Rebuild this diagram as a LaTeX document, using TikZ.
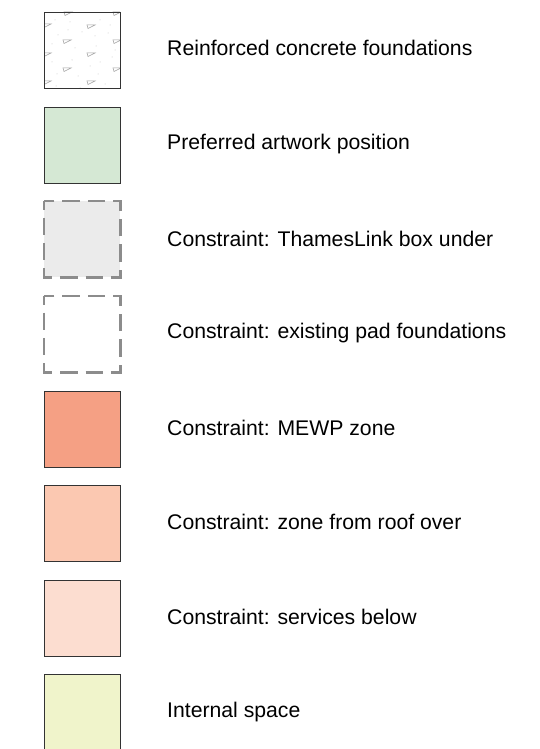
\documentclass[tikz,border=0pt]{standalone}
\usepackage{fontspec}
\setmainfont{Liberation Sans}
\definecolor{cgreen}{HTML}{D5E8D4}
\definecolor{cgray}{HTML}{EBEBEB}
\definecolor{cmewp}{HTML}{F5A084}
\definecolor{croof}{HTML}{FBC8B1}
\definecolor{cserv}{HTML}{FCDDD0}
\definecolor{cint}{HTML}{F0F4CB}
\definecolor{cedge}{HTML}{333333}
\definecolor{cdash}{HTML}{8C8C8C}
\begin{document}
\begin{tikzpicture}[x=1pt,y=-1pt,
  swatch/.style={draw=cedge,line width=1.1pt,minimum width=76pt,minimum height=76pt,inner sep=0pt,anchor=north west},
  dswatch/.style={minimum width=76pt,minimum height=76pt,inner sep=0pt,anchor=north west},
  dedge/.style={draw=cdash,line width=2.2pt,dash pattern=on 17.33pt off 8pt,dash phase=8.67pt},
  lbl/.style={anchor=west,font=\fontsize{21.2}{24}\selectfont,inner sep=0pt}]
\useasboundingbox (0,0) rectangle (540,749);
\node[swatch,fill=white] (s1) at (44,12) {};
\begin{scope}
\clip (44,12) rectangle (120,88);
\begin{scope}[draw=gray!75,line width=0.5pt]
\foreach \x/\y in {87/25,63/40,43/24,113/40,87/53,43/53,63/68,113/68,87/81,43/81,64/12,113/12} {
  \draw (\x,\y) -- ++(8,0) -- ++(-7,3.5) -- cycle;
}
\foreach \x/\y in {55/20,70/22,100/20,110/25,58/35,75/48,96/46,108/33,52/62,72/60,100/62,112/57,57/74,78/76,98/74,115/50,82/32,68/30,105/84,56/86,80/88,95/36,52/44,90/66} {
  \fill[gray!45] (\x,\y) circle (0.5);
}
\end{scope}
\end{scope}
\node[swatch,fill=white,fill opacity=0] at (44,12) {};
\node[lbl] (t1) at (167,48) {Reinforced concrete foundations};
\node[swatch,fill=cgreen] (s2) at (44,107) {};
\node[lbl] (t2) at (167,144) {Preferred artwork position};
\node[dswatch,fill=cgray] (s3) at (44,201) {};
\draw[dedge] (s3.north west) rectangle (s3.south east);
\node[lbl] (t3) at (167,239) {Constraint: ThamesLink box under};
\node[dswatch] (s4) at (44,296) {};
\draw[dedge] (s4.north west) rectangle (s4.south east);
\node[lbl] (t4) at (167,333) {Constraint: existing pad foundations};
\node[swatch,fill=cmewp] (s5) at (44,391) {};
\node[lbl] (t5) at (167,428) {Constraint: MEWP zone};
\node[swatch,fill=croof] (s6) at (44,485) {};
\node[lbl] (t6) at (167,522) {Constraint: zone from roof over};
\node[swatch,fill=cserv] (s7) at (44,580) {};
\node[lbl] (t7) at (167,617) {Constraint: services below};
\node[swatch,fill=cint] (s8) at (44,674) {};
\node[lbl] (t8) at (167,712) {Internal space};
\end{tikzpicture}
\end{document}
